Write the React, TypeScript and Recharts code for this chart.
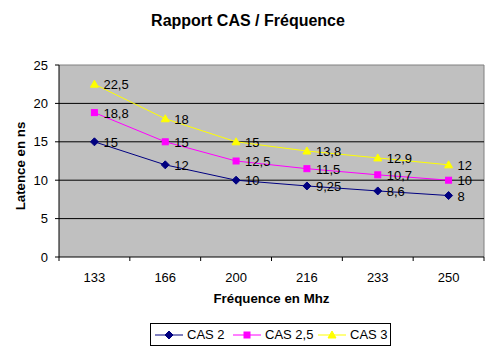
import { LineChart, Line, XAxis, YAxis, CartesianGrid, ReferenceLine, LabelList } from "recharts"

const frequencies = ["133", "166", "200", "216", "233", "250"]
const cas2 = [15, 12, 10, 9.25, 8.6, 8]
const cas25 = [18.8, 15, 12.5, 11.5, 10.7, 10]
const cas3 = [22.5, 18, 15, 13.8, 12.9, 12]
const yTicks = [0, 5, 10, 15, 20, 25]

const FONT = "Arial, 'Liberation Sans', sans-serif"
const PLOT_LEFT = 59
const PLOT_RIGHT = 484
const BAND = (PLOT_RIGHT - PLOT_LEFT) / frequencies.length

const data = frequencies.map((f, i) => ({ freq: f, cas2: cas2[i], cas25: cas25[i], cas3: cas3[i] }))

type Shape = "diamond" | "square" | "triangle"

const series: { key: string; name: string; color: string; shape: Shape }[] = [
  { key: "cas2", name: "CAS 2", color: "#000080", shape: "diamond" },
  { key: "cas25", name: "CAS 2,5", color: "#FF00FF", shape: "square" },
  { key: "cas3", name: "CAS 3", color: "#FFFF00", shape: "triangle" },
]
// legend item left edges (px inside the legend box)
const legendX = [4, 82, 167]

function Marker({ cx, cy, shape, color }: { cx: number; cy: number; shape: Shape; color: string }) {
  if (shape === "diamond")
    return <polygon points={`${cx},${cy - 4} ${cx + 4},${cy} ${cx},${cy + 4} ${cx - 4},${cy}`} fill={color} stroke={color} />
  if (shape === "square") return <rect x={cx - 3} y={cy - 3} width={6} height={6} fill={color} stroke={color} />
  return <polygon points={`${cx},${cy - 4} ${cx + 4},${cy + 3} ${cx - 4},${cy + 3}`} fill={color} stroke={color} />
}

const fmt = (v: number) => String(v).replace(".", ",")

function XTick(props: any) {
  const { x, y, payload, index } = props
  return (
    <g>
      <line x1={x - BAND / 2} x2={x - BAND / 2} y1={y} y2={y + 4} stroke="#000" />
      {index === frequencies.length - 1 && <line x1={x + BAND / 2} x2={x + BAND / 2} y1={y} y2={y + 4} stroke="#000" />}
      <text x={x} y={y + 25} textAnchor="middle" fontSize={13} fontFamily={FONT} fill="#000">
        {payload.value}
      </text>
    </g>
  )
}

export default function App() {
  return (
    <div style={{ position: "absolute", left: 0, top: 0, width: 496, height: 352, background: "#fff", fontFamily: FONT }}>
      <div style={{ position: "absolute", left: 0, width: 496, top: 12, textAlign: "center", fontSize: 16, fontWeight: "bold" }}>
        Rapport CAS / Fréquence
      </div>
      <LineChart width={496} height={352} data={data} margin={{ top: 65, right: 12, bottom: 65, left: 0 }}>
        <CartesianGrid horizontal={false} verticalPoints={[PLOT_RIGHT]} stroke="#808080" fill="#C0C0C0" />
        {[5, 10, 15, 20].map((v) => (
          <ReferenceLine key={v} y={v} stroke="#000" />
        ))}
        <ReferenceLine y={25} stroke="#808080" />
        <XAxis dataKey="freq" scale="band" height={30} tickLine={false} tickSize={0} tickMargin={0} axisLine={{ stroke: "#000" }} tick={<XTick />} interval={0} />
        <YAxis
          width={PLOT_LEFT}
          domain={[0, 25]}
          ticks={yTicks}
          tickSize={4}
          tickMargin={7}
          axisLine={{ stroke: "#000" }}
          tickLine={{ stroke: "#000" }}
          tick={{ fontSize: 13, fill: "#000", fontFamily: FONT }}
        />
        {series.map((s) => (
          <Line
            key={s.key}
            type="linear"
            dataKey={s.key}
            name={s.name}
            stroke={s.color}
            strokeWidth={1}
            isAnimationActive={false}
            dot={(p: any) => <Marker key={p.index} cx={p.cx} cy={p.cy} shape={s.shape} color={s.color} />}
          >
            <LabelList
              dataKey={s.key}
              content={(p: any) => (
                <text x={p.x + 9} y={p.y + 5} fontSize={13} fontFamily={FONT} fill="#000">
                  {fmt(p.value)}
                </text>
              )}
            />
          </Line>
        ))}
      </LineChart>
      <div
        style={{
          position: "absolute",
          left: 0,
          top: 155,
          width: 40,
          height: 22,
          transform: "rotate(-90deg)",
          transformOrigin: "20px 11px",
          display: "flex",
          alignItems: "center",
          justifyContent: "center",
          whiteSpace: "nowrap",
          fontSize: 13.3,
          fontWeight: "bold",
        }}
      >
        Latence en ns
      </div>
      <div style={{ position: "absolute", left: PLOT_LEFT, width: PLOT_RIGHT - PLOT_LEFT, top: 291, textAlign: "center", fontSize: 13.3, fontWeight: "bold" }}>
        Fréquence en Mhz
      </div>
      <div
        style={{
          position: "absolute",
          left: 150,
          top: 323,
          width: 241,
          height: 23,
          boxSizing: "border-box",
          border: "1px solid #000",
          fontSize: 13,
        }}
      >
        {series.map((s, i) => (
          <div
            key={s.key}
            style={{ position: "absolute", left: legendX[i], top: 0, height: 21, display: "flex", alignItems: "center", whiteSpace: "nowrap" }}
          >
            <svg width={28} height={10} style={{ flexShrink: 0 }}>
              <line x1={0} x2={28} y1={5} y2={5} stroke={s.color} />
              <Marker cx={14} cy={5} shape={s.shape} color={s.color} />
            </svg>
            <span style={{ marginLeft: 4 }}>{s.name}</span>
          </div>
        ))}
      </div>
    </div>
  )
}
